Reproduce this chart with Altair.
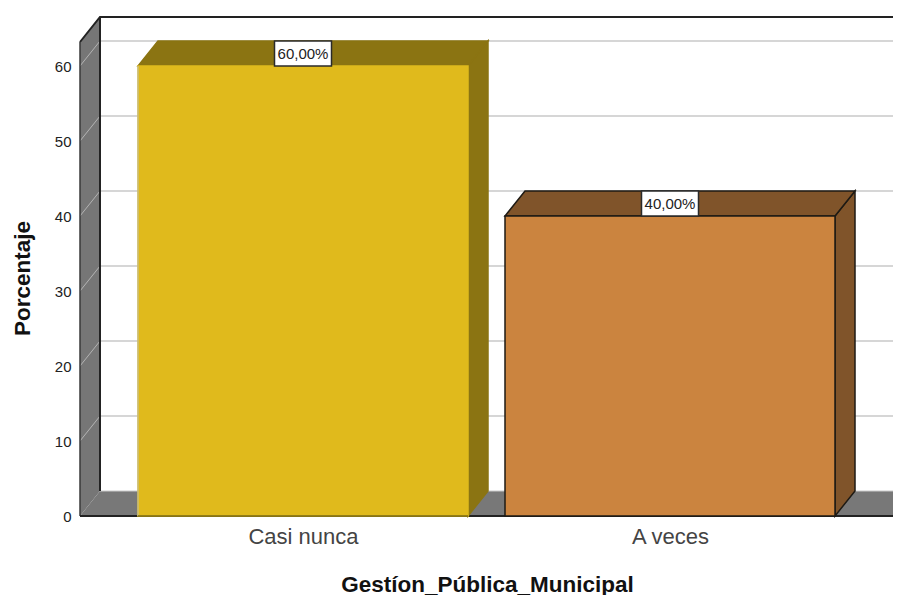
import altair as alt
import pandas as pd

categories = ["Casi nunca", "A veces"]
values = [60, 40]
labels = ["60,00%", "40,00%"]
y_ticks = [0, 10, 20, 30, 40, 50, 60]
front_colors = ["#E0BA1C", "#CB843F"]
dark_colors = ["#8B7412", "#80542A"]
face_strokes = ["#8B7412", "#1E1A14"]
front_strokes = ["#E0BA1C", "#1E1A14"]
x_title = "Gestíon_Pública_Municipal"
y_title = "Porcentaje"

# Chart geometry in data units
PX_X = 367.0
PX_Y = 7.5
HALF = 165 / PX_X
DX = 20 / PX_X
DY = 25 / PX_Y
X_L = -223 / PX_X
X_FLOOR_END = 590 / PX_X
X_MAX = X_L + 813 / PX_X
Y_MAX = 499 / PX_Y
WALL_TOP = Y_MAX - DY
FONT = "Liberation Sans"

xs = alt.Scale(domain=[X_L, X_MAX], nice=False, zero=False)
ys = alt.Scale(domain=[0, Y_MAX], nice=False, zero=False)

x_axis = alt.Axis(
    values=list(range(len(categories))),
    labelExpr="[" + ",".join(f"'{c}'" for c in categories) + "][datum.value]",
    labelFont=FONT, labelFontSize=22, labelColor="#444444", labelPadding=10,
    domain=False, ticks=False, grid=False, title=x_title, titleFont=FONT,
    titleFontSize=22.5, titleFontWeight="bold", titleColor="#111111",
    titleX=407, titleY=75, titleBaseline="alphabetic", titleAnchor="middle",
)
y_axis = alt.Axis(
    values=y_ticks, format="d", labelFont=FONT, labelFontSize=15,
    labelColor="#222222", labelPadding=9, domain=False, ticks=False, grid=False,
    title=y_title, titleFont=FONT, titleFontSize=22.5, titleFontWeight="bold",
    titleColor="#111111", titleX=-58, titleY=261, titleBaseline="middle",
    titleAnchor="middle",
)


def X(field="x"):
    return alt.X(f"{field}:Q", scale=xs, axis=x_axis)


def Y(field="y"):
    return alt.Y(f"{field}:Q", scale=ys, axis=y_axis, stack=None)


def area(points, **kw):
    df = pd.DataFrame(points, columns=["x", "y", "y2"])
    return alt.Chart(df).mark_area(**kw).encode(X(), Y(), y2="y2:Q")


def line(points, **kw):
    df = pd.DataFrame(points, columns=["x", "y"])
    return alt.Chart(df).mark_line(**kw).encode(X(), Y())


layers = []

# Left wall
layers.append(area([(X_L, 0, WALL_TOP), (X_L + DX, DY, Y_MAX)], color="#767676"))
# Back-wall gridlines and their wall continuations
for t in y_ticks[1:]:
    layers.append(line([(X_L + DX, t + DY), (X_MAX, t + DY)], color="#C9C9C9", strokeWidth=1.5))
    layers.append(line([(X_L, t), (X_L + DX, t + DY)], color="#B4B4B4", strokeWidth=1))
# Floor
layers.append(
    area(
        [(X_L, 0, 0), (X_L + DX, 0, DY), (X_FLOOR_END, 0, DY), (X_FLOOR_END + DX, DY, DY)],
        color="#787878",
    )
)
layers.append(line([(X_L + DX, DY), (X_MAX, DY)], color="#C9C9C9", strokeWidth=1))
# Wall edges
layers.append(line([(X_L, WALL_TOP), (X_L + DX, Y_MAX), (X_MAX, Y_MAX)], color="#222222", strokeWidth=2))
layers.append(line([(X_L + DX, DY), (X_L + DX, Y_MAX)], color="#222222", strokeWidth=2))
layers.append(line([(X_L, 0), (X_L, WALL_TOP)], color="#3A3A3A", strokeWidth=1.5))
layers.append(line([(X_L, 0), (X_FLOOR_END, 0)], color="#222222", strokeWidth=2))
layers.append(line([(X_FLOOR_END, 0), (X_FLOOR_END + DX, DY)], color="#222222", strokeWidth=1.5))

# Bars
for i, v in enumerate(values):
    x0, x1 = i - HALF, i + HALF
    sw = 1.5
    layers.append(
        area(
            [(x1, 0, v), (x1 + DX, DY, v + DY)],
            color=dark_colors[i], stroke=face_strokes[i], strokeWidth=sw,
        )
    )
    layers.append(
        area(
            [(x0, v, v), (x0 + DX, v, v + DY), (x1, v, v + DY), (x1 + DX, v + DY, v + DY)],
            color=dark_colors[i], stroke=face_strokes[i], strokeWidth=sw,
        )
    )
    front = pd.DataFrame({"x": [x0], "x2": [x1], "y": [0.0], "y2": [float(v)]})
    layers.append(
        alt.Chart(front)
        .mark_rect(color=front_colors[i], stroke=front_strokes[i], strokeWidth=sw)
        .encode(X(), x2="x2:Q", y=Y(), y2="y2:Q")
    )
# Thin edges on the yellow bar's front face
layers.append(line([(0 - HALF, 0), (0 - HALF, values[0])], color="#BFBFA8", strokeWidth=1))
layers.append(line([(0 - HALF, 0), (0 + HALF, 0)], color="#7A6A14", strokeWidth=1.5))

# Value labels
HW = 28.5 / PX_X
box = pd.DataFrame(
    {
        "x": [i - HW for i in range(len(values))],
        "x2": [i + HW for i in range(len(values))],
        "y": [float(v) for v in values],
        "y2": [v + DY for v in values],
        "xc": [float(i) for i in range(len(values))],
        "yc": [v + DY / 2 for v in values],
        "label": labels,
    }
)
layers.append(
    alt.Chart(box)
    .mark_rect(color="white", stroke="#2A2A2A", strokeWidth=1.5)
    .encode(X(), x2="x2:Q", y=Y(), y2="y2:Q")
)
layers.append(
    alt.Chart(box)
    .mark_text(font=FONT, fontSize=15, color="#222222", baseline="middle", align="center")
    .encode(x=X("xc"), y=Y("yc"), text="label:N")
)

chart = (
    alt.layer(*layers)
    .properties(
        width=813,
        height=499,
        padding={"left": 72, "top": 9, "right": 0, "bottom": 79},
        autosize=alt.AutoSizeParams(type="none"),
        background="white",
    )
    .configure_view(stroke=None)
)

chart.save("out.html", embed_options={"renderer": "svg", "actions": False})
